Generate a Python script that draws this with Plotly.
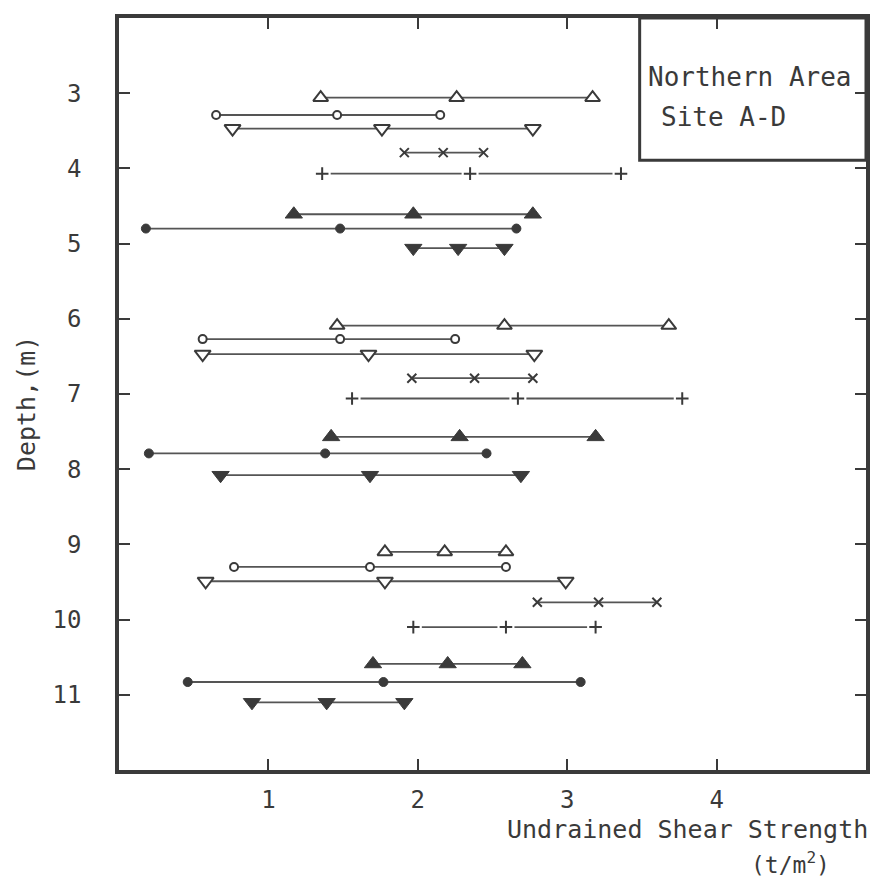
import plotly.graph_objects as go

# ---- data ----
series_names = ["open_tri_up", "open_circle", "open_tri_down", "cross_x",
                "plus", "filled_tri_up", "filled_circle", "filled_tri_down"]

depth_open_tri_up = [3.06, 6.09, 9.10]
lo_open_tri_up = [1.35, 1.46, 1.78]
mid_open_tri_up = [2.26, 2.58, 2.18]
hi_open_tri_up = [3.17, 3.68, 2.59]

depth_open_circle = [3.29, 6.27, 9.30]
lo_open_circle = [0.65, 0.56, 0.77]
mid_open_circle = [1.46, 1.48, 1.68]
hi_open_circle = [2.15, 2.25, 2.59]

depth_open_tri_down = [3.47, 6.47, 9.49]
lo_open_tri_down = [0.76, 0.56, 0.58]
mid_open_tri_down = [1.76, 1.67, 1.78]
hi_open_tri_down = [2.77, 2.78, 2.99]

depth_cross_x = [3.79, 6.79, 9.77]
lo_cross_x = [1.91, 1.96, 2.80]
mid_cross_x = [2.17, 2.38, 3.21]
hi_cross_x = [2.44, 2.77, 3.60]

depth_plus = [4.07, 7.06, 10.10]
lo_plus = [1.36, 1.56, 1.97]
mid_plus = [2.35, 2.67, 2.59]
hi_plus = [3.36, 3.77, 3.19]

depth_filled_tri_up = [4.61, 7.57, 10.59]
lo_filled_tri_up = [1.17, 1.42, 1.70]
mid_filled_tri_up = [1.97, 2.28, 2.20]
hi_filled_tri_up = [2.77, 3.19, 2.70]

depth_filled_circle = [4.80, 7.79, 10.83]
lo_filled_circle = [0.18, 0.20, 0.46]
mid_filled_circle = [1.48, 1.38, 1.77]
hi_filled_circle = [2.66, 2.46, 3.09]

depth_filled_tri_down = [5.06, 8.08, 11.10]
lo_filled_tri_down = [1.97, 0.68, 0.89]
mid_filled_tri_down = [2.27, 1.68, 1.39]
hi_filled_tri_down = [2.58, 2.69, 1.91]

x_ticks = [1, 2, 3, 4]
y_ticks = [3, 4, 5, 6, 7, 8, 9, 10, 11]
x_title = "Undrained Shear Strength"
x_unit = "(t/m<sup>2</sup>)"
y_title = "Depth,(m)"
box_lines = ["Northern Area", "Site A-D"]

# ---- styles ----
INK = "#3a3a3a"
LINE = "#555555"
FONT = "DejaVu Sans Mono"

data = {
    "open_tri_up": (depth_open_tri_up, lo_open_tri_up, mid_open_tri_up, hi_open_tri_up),
    "open_circle": (depth_open_circle, lo_open_circle, mid_open_circle, hi_open_circle),
    "open_tri_down": (depth_open_tri_down, lo_open_tri_down, mid_open_tri_down, hi_open_tri_down),
    "cross_x": (depth_cross_x, lo_cross_x, mid_cross_x, hi_cross_x),
    "plus": (depth_plus, lo_plus, mid_plus, hi_plus),
    "filled_tri_up": (depth_filled_tri_up, lo_filled_tri_up, mid_filled_tri_up, hi_filled_tri_up),
    "filled_circle": (depth_filled_circle, lo_filled_circle, mid_filled_circle, hi_filled_circle),
    "filled_tri_down": (depth_filled_tri_down, lo_filled_tri_down, mid_filled_tri_down, hi_filled_tri_down),
}

marker_styles = {
    "open_tri_up": dict(symbol="triangle-up", size=13, color="white", line=dict(color=INK, width=2)),
    "open_circle": dict(symbol="circle", size=8, color="white", line=dict(color=INK, width=2)),
    "open_tri_down": dict(symbol="triangle-down", size=14, color="white", line=dict(color=INK, width=2)),
    "cross_x": dict(symbol="x-thin", size=9, color=INK, line=dict(color=INK, width=2)),
    "plus": dict(symbol="cross-thin", size=9, color=INK, line=dict(color=INK, width=2)),
    "filled_tri_up": dict(symbol="triangle-up", size=15, color=INK, line=dict(color=INK, width=1)),
    "filled_circle": dict(symbol="circle", size=9, color=INK, line=dict(color=INK, width=1)),
    "filled_tri_down": dict(symbol="triangle-down", size=15, color=INK, line=dict(color=INK, width=1)),
}

fig = go.Figure()

for name in series_names:
    depths, lo, mid, hi = data[name]
    xs, ys = [], []
    for d, a, b, c in zip(depths, lo, mid, hi):
        xs += [a, b, c, None]
        ys += [d, d, d, None]
    # connecting line
    fig.add_trace(go.Scatter(x=xs, y=ys, mode="lines",
                             line=dict(color=LINE, width=1.8),
                             hoverinfo="skip", showlegend=False))
    if name == "plus":
        # white masks give the gaps around the plus signs
        fig.add_trace(go.Scatter(x=xs, y=ys, mode="markers",
                                 marker=dict(symbol="square", size=17, color="white",
                                             line=dict(width=0)),
                                 hoverinfo="skip", showlegend=False))
    fig.add_trace(go.Scatter(x=xs, y=ys, mode="markers",
                             marker=marker_styles[name],
                             name=name, showlegend=False))

# legend-like box in the upper right corner
fig.add_shape(type="rect", xref="paper", yref="paper",
              x0=0.697, x1=1.0, y0=0.811, y1=1.0,
              line=dict(color=INK, width=3), fillcolor="rgba(0,0,0,0)")
fig.add_annotation(text=box_lines[0], xref="paper", yref="paper",
                   x=0.706, y=0.922, xanchor="left", yanchor="middle",
                   showarrow=False, font=dict(family=FONT, size=26, color=INK))
fig.add_annotation(text=box_lines[1], xref="paper", yref="paper",
                   x=0.723, y=0.868, xanchor="left", yanchor="middle",
                   showarrow=False, font=dict(family=FONT, size=26, color=INK))

# axis titles
fig.add_annotation(text=x_title, xref="paper", yref="paper",
                   x=1.005, y=-0.1011, xanchor="right", yanchor="bottom",
                   showarrow=False, font=dict(family=FONT, size=25, color=INK))
fig.add_annotation(text=x_unit, xref="paper", yref="paper",
                   x=0.955, y=-0.1011, xanchor="right", yanchor="top",
                   showarrow=False, font=dict(family=FONT, size=23, color=INK))
fig.add_annotation(text=y_title, xref="paper", yref="paper",
                   x=-0.124, y=0.487, xanchor="center", yanchor="middle",
                   textangle=-90, showarrow=False,
                   font=dict(family=FONT, size=25, color=INK))

axis_common = dict(showgrid=False, zeroline=False, showline=True,
                   linecolor=INK, linewidth=3.5, mirror="ticks",
                   ticks="inside", ticklen=11, tickwidth=2, tickcolor=INK,
                   tickfont=dict(family=FONT, size=24, color=INK))

fig.update_xaxes(range=[0, 5], tickvals=x_ticks, ticktext=[str(v) for v in x_ticks],
                 ticklabelstandoff=5, **axis_common)
fig.update_yaxes(range=[12, 2], tickvals=y_ticks, ticktext=[str(v) for v in y_ticks],
                 ticklabelstandoff=29, **axis_common)

fig.update_layout(width=875, height=881,
                  margin=dict(l=119, r=5, t=18, b=111),
                  paper_bgcolor="white", plot_bgcolor="white",
                  font=dict(family=FONT, color=INK),
                  showlegend=False)

fig.write_html("out.html")
